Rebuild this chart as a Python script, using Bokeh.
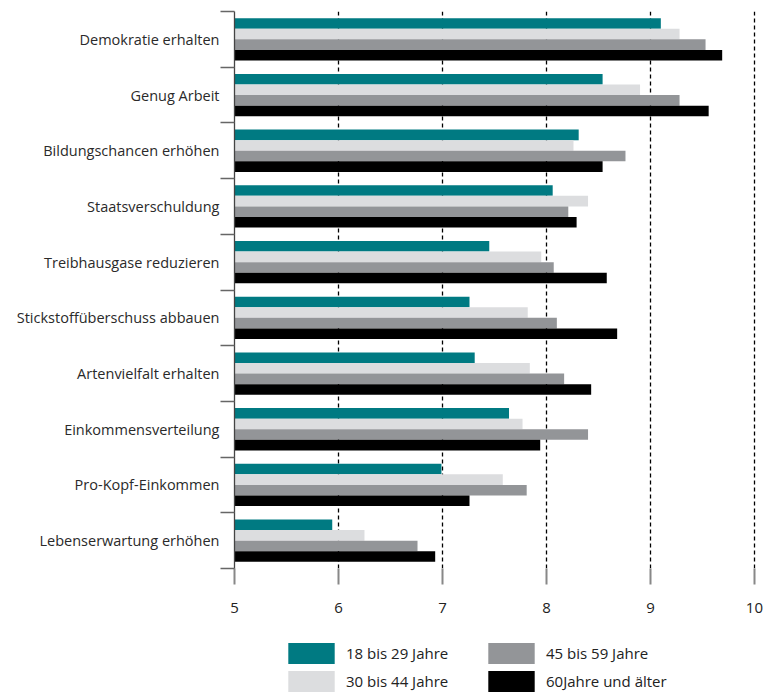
from bokeh.plotting import figure
from bokeh.models import FixedTicker, Legend, LegendItem, Range1d
from bokeh.layouts import column
from bokeh.embed import file_html
from bokeh.resources import INLINE

categories = [
    "Demokratie erhalten",
    "Genug Arbeit",
    "Bildungschancen erhöhen",
    "Staatsverschuldung",
    "Treibhausgase reduzieren",
    "Stickstoffüberschuss abbauen",
    "Artenvielfalt erhalten",
    "Einkommensverteilung",
    "Pro-Kopf-Einkommen",
    "Lebenserwartung erhöhen",
]
series_names = ["18 bis 29 Jahre", "30 bis 44 Jahre", "45 bis 59 Jahre", "60Jahre und älter"]
age_18_29 = [9.10, 8.54, 8.31, 8.06, 7.45, 7.26, 7.31, 7.64, 6.99, 5.94]
age_30_44 = [9.28, 8.90, 8.26, 8.40, 7.95, 7.82, 7.84, 7.77, 7.58, 6.25]
age_45_59 = [9.53, 9.28, 8.76, 8.21, 8.07, 8.10, 8.17, 8.40, 7.81, 6.76]
age_60_plus = [9.69, 9.56, 8.54, 8.29, 8.58, 8.68, 8.43, 7.94, 7.26, 6.93]
x_ticks = [5, 6, 7, 8, 9, 10]

series = [age_18_29, age_30_44, age_45_59, age_60_plus]
colors = ["#007A82", "#DCDDDF", "#939598", "#000000"]

n = len(categories)
centers = [n - 0.5 - i for i in range(n)]
bar_h = 0.19
offsets = [1.5 * bar_h, 0.5 * bar_h, -0.5 * bar_h, -1.5 * bar_h]

p = figure(
    width=764, height=620,
    output_backend="svg", toolbar_location=None,
    x_range=Range1d(5, 10.02), y_range=Range1d(0, n),
    min_border_left=234, min_border_right=8,
    min_border_top=11, min_border_bottom=52,
)
p.outline_line_color = None
p.background_fill_color = "white"
p.border_fill_color = "white"

# grid
p.xgrid.ticker = FixedTicker(ticks=[5, 6, 7, 8, 9, 10])
p.xgrid.grid_line_color = "black"
p.xgrid.grid_line_dash = "4 3"
p.xgrid.grid_line_width = 1.3
p.ygrid.grid_line_color = None

for vals, off, col in zip(series, offsets, colors):
    ys = [c + off for c in centers]
    p.hbar(y=ys, right=vals, left=5, height=bar_h, fill_color=col, line_color=None)

# x axis
xa = p.xaxis[0]
xa.ticker = FixedTicker(ticks=x_ticks)
xa.axis_line_color = None
xa.major_tick_line_color = "#888888"
xa.major_tick_line_width = 2
xa.major_tick_out = 16
xa.major_tick_in = 0
xa.minor_tick_line_color = None
xa.major_label_standoff = 18
xa.major_label_text_font = "Open Sans"
xa.major_label_text_font_size = "15px"
xa.major_label_text_color = "#222222"

# y axis
ya = p.yaxis[0]
ya.ticker = FixedTicker(ticks=centers, minor_ticks=list(range(0, n + 1)))
ya.major_label_overrides = {c: name for c, name in zip(centers, categories)}
ya.axis_line_color = "#444444"
ya.axis_line_width = 1.3
ya.major_tick_line_color = None
ya.major_tick_out = 0
ya.major_tick_in = 0
ya.minor_tick_line_color = "#666666"
ya.minor_tick_line_width = 1.5
ya.minor_tick_out = 14
ya.minor_tick_in = 0
ya.major_label_standoff = 1
ya.major_label_text_font = "Open Sans"
ya.major_label_text_font_size = "14.5px"
ya.major_label_text_color = "#2a2a2a"

# legend figure
lg = figure(
    width=764, height=75,
    output_backend="svg", toolbar_location=None,
    x_axis_type=None, y_axis_type=None,
    x_range=Range1d(0, 1), y_range=Range1d(0, 1),
    min_border=0,
)
lg.outline_line_color = None
lg.xgrid.grid_line_color = None
lg.ygrid.grid_line_color = None
dummy = []
for col in colors:
    # placeholder renderers, drawn outside the visible range; only their legend swatches show
    dummy.append(lg.hbar(y=[-5], right=[-4], left=[-5], height=0.1, fill_color=col, line_color=None))

legend = Legend(
    items=[LegendItem(label=nm, renderers=[r]) for nm, r in zip(series_names, dummy)],
    location=(48, 1),
    orientation="vertical",
    nrows=2,
    glyph_width=58, glyph_height=26,
    label_height=26,
    label_width=134,
    label_standoff=6,
    spacing=2,
    padding=0, margin=0,
    border_line_color=None,
    background_fill_alpha=0,
    label_text_font="Open Sans",
    label_text_font_size="15px",
    label_text_color="#222222",
)
lg.add_layout(legend, "center")

layout = column(p, lg, spacing=0)
open("out.html", "w").write(file_html(layout, INLINE))
